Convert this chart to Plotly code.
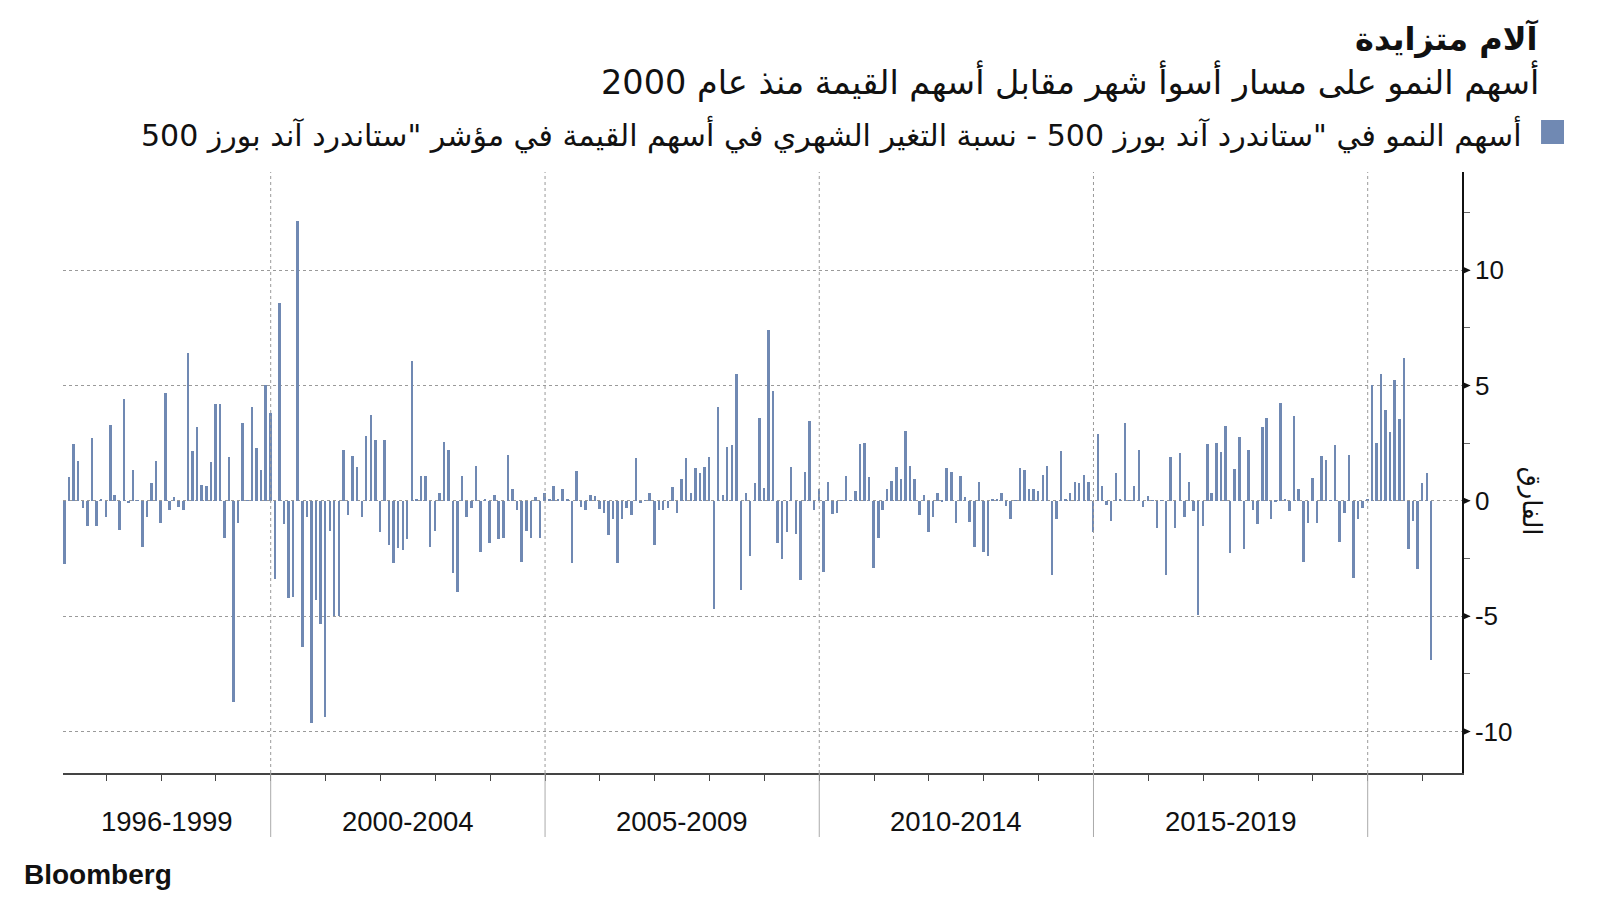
import pandas as pd
import plotly.graph_objects as go

# ---------------- data (monthly growth minus value, percentage points) ----------------
start_month = "1996-03"
v1996 = [-2.75, 1.03, 2.46, 1.74, -0.31, -1.07, 2.71, -1.07, 0.05, -0.69]
v1997 = [3.3, 0.26, -1.27, 4.42, -0.09, 1.36, 0.03, -1.99, -0.69, 0.76, 1.74, -0.95]
v1998 = [4.67, -0.38, 0.17, -0.27, -0.41, 6.41, 2.16, 3.2, 0.7, 0.65, 1.68, 4.18]
v1999 = [4.18, -1.62, 1.91, -8.73, -0.95, 3.38, 0.03, 4.07, 2.29, 1.36, 5.02, 3.81]
v2000 = [-3.4, 8.57, -1.0, -4.21, -4.16, 12.15, -6.32, -0.69, -9.62, -4.31, -5.34, -9.36]
v2001 = [-1.29, -5.0, -5.0, 2.22, -0.62, 1.94, 1.48, -0.72, 2.82, 3.73, 2.65, -1.34]
v2002 = [2.65, -1.92, -2.68, -2.04, -2.15, -1.65, 6.07, 0.1, 1.07, 1.07, -1.99, -1.29]
v2003 = [0.33, 2.54, 2.22, -3.11, -3.95, 1.07, -0.72, -0.31, 1.51, -2.2, 0.07, -1.82]
v2004 = [0.26, -1.65, -1.62, 2.01, 0.53, -0.41, -2.65, -1.29, -1.62, 0.17, -1.62, 0.36]
v2005 = [0.1, 0.65, 0.1, 0.5, 0.05, -2.68, 1.29, -0.27, -0.41, 0.26, 0.19, -0.34]
v2006 = [-0.52, -1.49, -0.79, -2.68, -0.79, -0.31, -0.62, 1.84, -0.09, 0.02, 0.33, -1.92]
v2007 = [-0.38, -0.41, -0.31, 0.6, -0.52, 0.93, 1.84, 0.36, 1.41, 1.2, 1.48, 1.91]
v2008 = [-4.71, 4.05, 0.26, 2.32, 2.41, 5.48, -3.88, 0.33, -2.41, 0.76, 3.59, 0.55]
v2009 = [7.42, 4.78, -1.82, -2.54, -1.37, 1.48, -1.44, -3.45, 1.24, 3.47, -0.41, 0.5]
v2010 = [-3.08, 0.81, -0.58, -0.52, 0.02, 1.08, 0.02, 0.43, 2.46, 2.49, 1.03, -2.9]
v2011 = [-1.62, -0.38, 0.53, 0.86, 1.48, 0.93, 3.04, 1.51, 0.93, -0.62, 0.26, -1.37]
v2012 = [-0.69, 0.33, -0.07, 1.41, 1.24, -0.95, 1.08, 0.17, -0.91, -1.99, 0.81, -2.2]
v2013 = [-2.41, 0.07, 0.1, 0.36, -0.21, -0.79, 0.02, 1.41, 1.34, 0.53, 0.5, 0.43]
v2014 = [1.13, 1.51, -3.23, -0.79, 2.16, 0.1, 0.36, 0.81, 0.76, 1.13, 0.81, -1.37]
v2015 = [2.89, 0.65, -0.17, -0.89, 1.2, 0.09, 3.38, 0.02, 0.65, 2.22, -0.27, 0.19]
v2016 = [0.02, -1.17, 0.02, -3.23, 1.91, -1.17, 2.06, -0.72, 0.81, -0.45, -4.95, -1.08]
v2017 = [2.46, 0.33, 2.49, 2.11, 3.25, -2.27, 1.37, 2.77, -2.1, 2.22, -0.41, -1.0]
v2018 = [3.2, 3.59, -0.79, -0.07, 4.23, 0.07, -0.45, 3.69, 0.5, -2.65, -0.95, 0.98]
v2019 = [-0.95, 1.96, 1.79, 0.02, 2.41, -1.79, -0.52, 2.01, -3.33, -0.79, -0.31, 0.1]
v2020 = [5.02, 2.51, 5.48, 3.92, 2.99, 5.22, 3.54, 6.19, -2.1, -0.89, -2.96, 0.76]
v2021 = [1.19, -6.92]

values = (v1996 + v1997 + v1998 + v1999 + v2000 + v2001 + v2002 + v2003 + v2004
          + v2005 + v2006 + v2007 + v2008 + v2009 + v2010 + v2011 + v2012 + v2013
          + v2014 + v2015 + v2016 + v2017 + v2018 + v2019 + v2020 + v2021)
months = pd.period_range(start_month, periods=len(values), freq="M")
dates = [p.to_timestamp(how="end").strftime("%Y-%m-%d") for p in months]

period_labels = ["1996-1999", "2000-2004", "2005-2009", "2010-2014", "2015-2019"]
period_bounds = ["1996-03-19", "2000-01-01", "2005-01-01", "2010-01-01", "2015-01-01", "2020-01-01"]
year_ticks = [f"{y}-01-01" for y in range(1997, 2022)]
x_range = ["1996-03-19", "2021-09-20"]
y_ticks = [-10, -5, 0, 5, 10]
y_ticktext = ["-10", "-5", "0", "5", "10"]

title = "آلام متزايدة"
subtitle = "أسهم النمو على مسار أسوأ شهر مقابل أسهم القيمة منذ عام 2000"
legend_text = 'أسهم النمو في "ستاندرد آند بورز 500 - نسبة التغير الشهري في أسهم القيمة في مؤشر "ستاندرد آند بورز 500'
y_title = "الفارق"

BAR = "#7089b3"
GRID = "#9a9a9a"
AR_FONT = "DejaVu Sans"
LAT_FONT = "Liberation Sans, Arial, sans-serif"

fig = go.Figure()
fig.add_trace(go.Bar(
    x=dates, y=values, marker=dict(color=BAR, line=dict(width=0)),
    width=13 * 24 * 3600 * 1000, showlegend=False,
))

# page has an 8px body margin, so the figure is sized to fill the remaining window
fig.update_layout(
    width=1584, height=884,
    margin=dict(l=55, r=130, t=164, b=119),
    paper_bgcolor="white", plot_bgcolor="white",
    bargap=0,
    xaxis=dict(
        type="date", range=x_range, tickvals=year_ticks, showticklabels=False,
        ticks="outside", ticklen=6, tickwidth=1, tickcolor="#444",
        showgrid=False, showline=True, linecolor="#444", linewidth=1.5,
        zeroline=False,
    ),
    yaxis=dict(
        side="right", range=[-11.8, 14.26], tickvals=y_ticks, ticktext=y_ticktext,
        ticks="outside", ticklen=6, tickcolor="rgba(0,0,0,0)",
        tickfont=dict(family=LAT_FONT, size=26, color="#111"),
        showgrid=True, gridcolor=GRID, griddash="dot", gridwidth=1,
        zeroline=False, showline=True, linecolor="#111", linewidth=1.5,
        minor=dict(dtick=2.5, ticks="outside", ticklen=6, tickcolor="#666", showgrid=False),
    ),
)

shapes = []
for b in period_bounds[1:]:
    shapes.append(dict(type="line", xref="x", yref="paper", x0=b, x1=b, y0=0, y1=1,
                       line=dict(color=GRID, width=1, dash="dot")))
    shapes.append(dict(type="line", xref="x", yref="paper", x0=b, x1=b, y0=0, y1=-0.1065,
                       line=dict(color="#aaa", width=1)))
# arrowhead tick marks on the right axis
for t in y_ticks:
    shapes.append(dict(type="path", xref="paper", yref="y",
                       path=f"M 1,{t + 0.17} L 1.0062,{t} L 1,{t - 0.17} Z",
                       fillcolor="#111", line=dict(width=0)))
# legend swatch
shapes.append(dict(type="rect", xref="paper", yref="paper", x0=1.0565, x1=1.0729,
                   y0=1.0466, y1=1.0865, fillcolor=BAR, line=dict(width=0)))
fig.update_layout(shapes=shapes)

anns = []
for i, lab in enumerate(period_labels):
    a = pd.Timestamp(period_bounds[i])
    b = pd.Timestamp(period_bounds[i + 1])
    mid = a + (b - a) / 2
    anns.append(dict(text=lab, x=mid.strftime("%Y-%m-%d"), xref="x", y=-0.0815, yref="paper",
                     showarrow=False, xanchor="center", yanchor="middle",
                     font=dict(family=LAT_FONT, size=27.5, color="#111")))
anns.append(dict(text="<b>" + title + "</b>", x=1.0565, y=1.2213, xref="paper", yref="paper",
                 showarrow=False, xanchor="right", yanchor="middle",
                 font=dict(family=AR_FONT, size=32, color="#111")))
anns.append(dict(text=subtitle, x=1.0565, y=1.1514, xref="paper", yref="paper",
                 showarrow=False, xanchor="right", yanchor="middle",
                 font=dict(family=AR_FONT, size=33.5, color="#111")))
anns.append(dict(text=legend_text, x=1.0445, y=1.0632, xref="paper", yref="paper",
                 showarrow=False, xanchor="right", yanchor="middle",
                 font=dict(family=AR_FONT, size=30, color="#111")))
anns.append(dict(text=y_title, x=1.0502, y=0, xref="paper", yref="y", textangle=90,
                 showarrow=False, xanchor="center", yanchor="middle",
                 font=dict(family=AR_FONT, size=26, color="#111")))
anns.append(dict(text="<b>Bloomberg</b>", x=-0.0293, y=-0.1697, xref="paper", yref="paper",
                 showarrow=False, xanchor="left", yanchor="middle",
                 font=dict(family=LAT_FONT, size=28, color="#111")))
fig.update_layout(annotations=anns)

fig.write_html("out.html")
